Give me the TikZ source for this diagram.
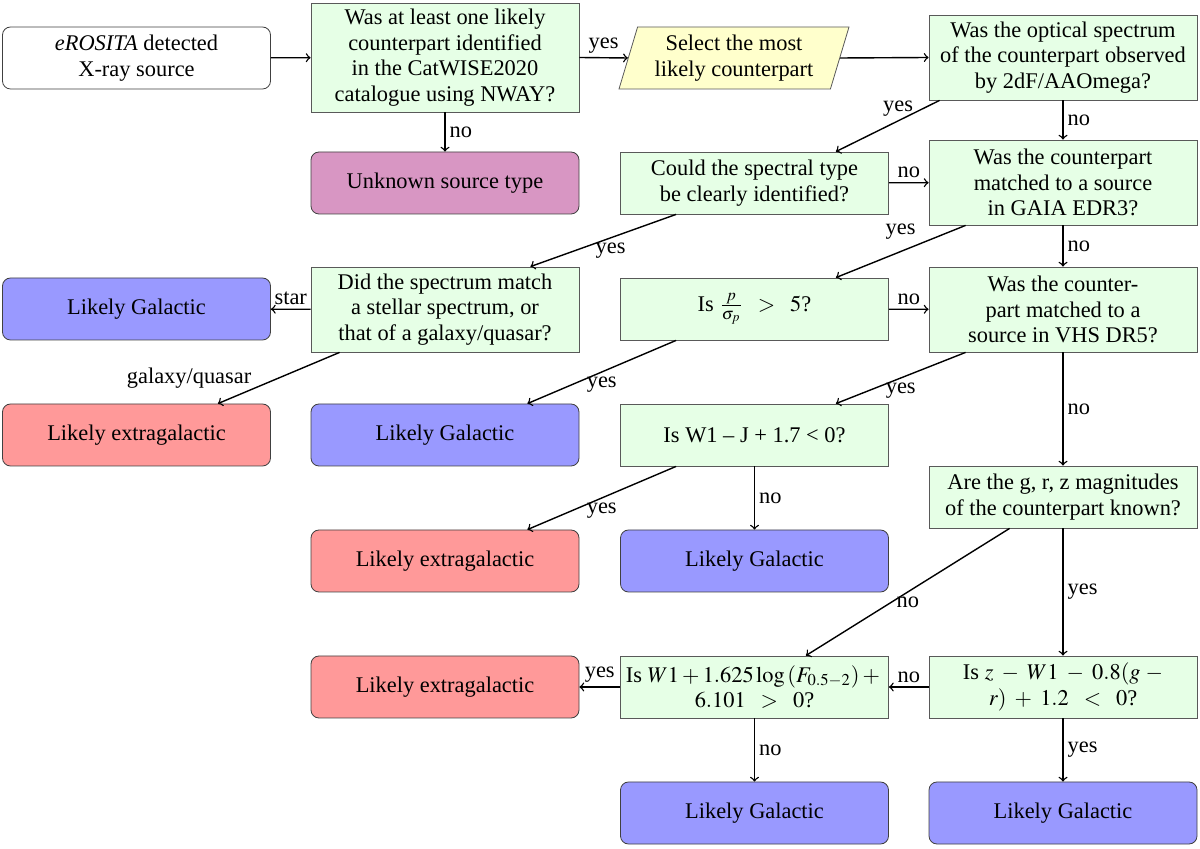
\documentclass[tikz,border=0pt]{standalone}
\usepackage{mathptmx}
\usepackage{fontspec}
\setmainfont{Liberation Serif}
\usetikzlibrary{shapes.geometric,calc}
\definecolor{qgreen}{RGB}{230,255,230}
\definecolor{gblue}{RGB}{153,153,255}
\definecolor{xred}{RGB}{255,153,153}
\definecolor{upurple}{RGB}{216,150,195}
\definecolor{syellow}{RGB}{255,255,204}
\tikzset{
  question/.style={rectangle, draw=black!65, fill=qgreen, minimum width=134pt, align=center, inner sep=2pt},
  hA/.style={minimum height=31pt},
  hB/.style={minimum height=42.5pt},
  hC/.style={minimum height=54.5pt},
  leaf/.style={rectangle, rounded corners=4pt, draw=black!75, minimum width=134pt, minimum height=31pt, align=center},
  galbox/.style={leaf, fill=gblue},
  extbox/.style={leaf, fill=xred},
  arr/.style={->, line width=0.7pt},
  lab/.style={inner sep=2pt}
}
\begin{document}
\begin{tikzpicture}[x=0.5pt,y=-0.5pt,font=\rmfamily\fontsize{11.2}{12.8}\selectfont]
\useasboundingbox (0,0) rectangle (1200,849);
% nodes
\node[leaf, fill=white] (start) at (136.5,58) {\textit{eROSITA} detected\\X-ray source};
\node[question, hC] (q1) at (445,57.5) {Was at least one likely\\counterpart identified\\in the CatWISE2020\\catalogue using NWAY?};
\node[leaf, fill=upurple] (unknown) at (445,183) {Unknown source type};
\node[trapezium, trapezium left angle=71, trapezium right angle=109, trapezium stretches body, draw=black!65, fill=syellow, minimum width=115pt, minimum height=31pt, align=center, inner sep=2pt] (select) at (734,58) {Select the most\\likely counterpart};
\node[question, hB] (q2) at (1063,57.5) {Was the optical spectrum\\of the counterpart observed\\by 2dF/AAOmega?};
\node[question, hA] (q3) at (754.5,183) {Could the spectral type\\be clearly identified?};
\node[question, hB] (q4) at (1063,182.5) {Was the counterpart\\matched to a source\\in GAIA EDR3?};
\node[question, hB] (q5) at (445,309.5) {Did the spectrum match\\a stellar spectrum, or\\that of a galaxy/quasar?};
\node[galbox] (gal1) at (136.5,309) {Likely Galactic};
\node[question, hA] (q6) at (754.5,309) {Is $\frac{p}{\sigma_p}\;\;>\;\;5$?};
\node[question, hB] (q7) at (1063,309.5) {Was the counter-\\part matched to a\\source in VHS DR5?};
\node[extbox] (ext1) at (136.5,435) {Likely extragalactic};
\node[galbox] (gal2) at (445,435) {Likely Galactic};
\node[question, hA] (q8) at (754.5,435) {Is W1 – J + 1.7 < 0?};
\node[question, hA] (q9) at (1063,497) {Are the g, r, z magnitudes\\of the counterpart known?};
\node[extbox] (ext2) at (445,561) {Likely extragalactic};
\node[galbox] (gal3) at (754.5,561) {Likely Galactic};
\node[extbox] (ext3) at (445,687) {Likely extragalactic};
\node[question, hA] (q10) at (754.5,687) {Is $W1 + 1.625\log{(F_{0.5-2})} +{}$\\$6.101\;\;>\;\;0$?};
\node[question, hA] (q11) at (1063,687) {Is $z\;-\;W1\;-\;0.8(g\;-$\\$r)\;+\;1.2\;\;<\;\;0$?};
\node[galbox] (gal4) at (754.5,813) {Likely Galactic};
\node[galbox] (gal5) at (1063,813) {Likely Galactic};
% connectors
\draw[arr] (start) -- (q1);
\draw[arr] (q1.east) -- node[lab, above] {yes} (select.left side);
\draw[arr] (q1) -- node[lab, right] {no} (unknown);
\draw[arr] (select.right side) -- (q2.west);
\draw[arr] ($(q2.south west)+(11,0)$) -- node[lab, above, pos=0.4] {yes} ($(q3.north east)+(-53,0)$);
\draw[arr] (q2) -- node[lab, right] {no} (q4);
\draw[arr] (q3) -- node[lab, above] {no} (q4);
\draw[arr] ($(q3.south west)+(56,0)$) -- node[lab, below, pos=0.45] {yes} ($(q5.north east)+(-49,0)$);
\draw[arr] ($(q4.south west)+(37,0)$) -- node[lab, above left, pos=0.35] {yes} ($(q6.north east)+(-53,0)$);
\draw[arr] (q4) -- node[lab, right] {no} (q7);
\draw[arr] (q5) -- node[lab, above] {star} (gal1);
\draw[arr] ($(q5.south west)+(29,0)$) -- node[lab, above left, pos=0.72, xshift=2pt, yshift=-2pt] {galaxy/quasar} ($(ext1.north east)+(-53,0)$);
\draw[arr] (q6) -- node[lab, above] {no} (q7);
\draw[arr] ($(q6.south west)+(56,0)$) -- node[lab, below, pos=0.5] {yes} ($(gal2.north east)+(-52,0)$);
\draw[arr] ($(q7.south west)+(37,0)$) -- node[lab, below, pos=0.5] {yes} ($(q8.north east)+(-53,0)$);
\draw[arr] (q7) -- node[lab, right] {no} (q9);
\draw[arr] ($(q8.south west)+(56,0)$) -- node[lab, below, pos=0.5] {yes} ($(ext2.north east)+(-52,0)$);
\draw[arr] (q8) -- node[lab, right] {no} (gal3);
\draw[arr] ($(q9.south west)+(81,0)$) -- node[lab, below, pos=0.5] {no} ($(q10.north east)+(-83,0)$);
\draw[arr] (q9) -- node[lab, right] {yes} (q11);
\draw[arr] (q11) -- node[lab, above] {no} (q10);
\draw[arr] (q10) -- node[lab, above] {yes} (ext3);
\draw[arr] (q10) -- node[lab, right] {no} (gal4);
\draw[arr] (q11) -- node[lab, right] {yes} (gal5);
\end{tikzpicture}
\end{document}
